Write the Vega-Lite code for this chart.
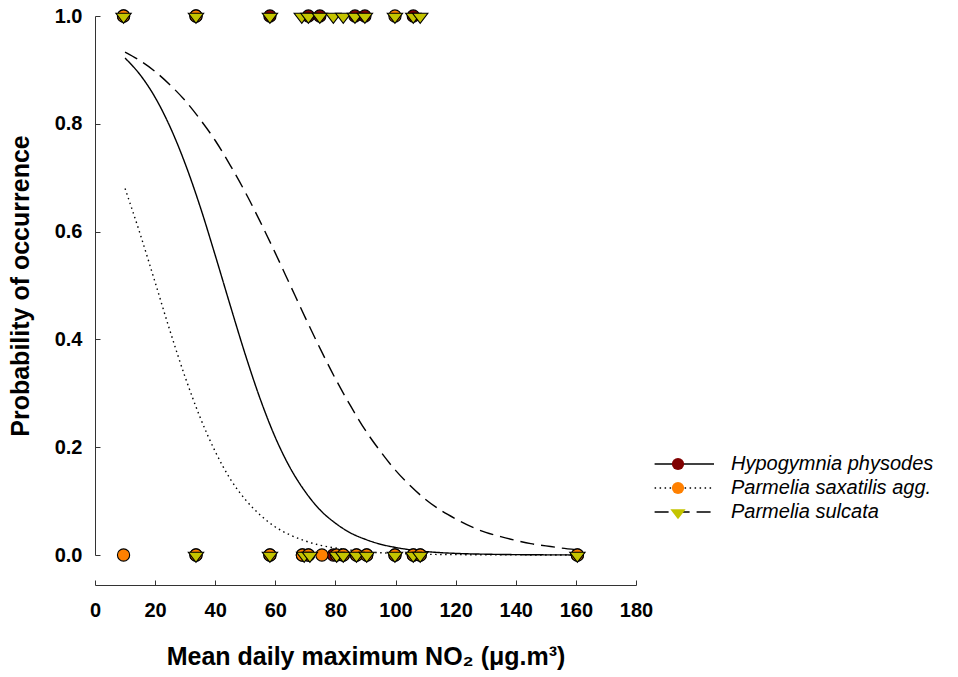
{
  "$schema": "https://vega.github.io/schema/vega-lite/v6.json",
  "width": 541,
  "height": 539,
  "autosize": {"type": "none"},
  "padding": {"left": 95, "top": 16, "right": 322, "bottom": 122},
  "background": "white",
  "config": {
    "view": {"stroke": null},
    "font": "Liberation Sans",
    "axis": {"grid": false, "domainColor": "#333333", "tickColor": "#333333", "labelColor": "black", "titleColor": "black", "labelFont": "Liberation Sans", "titleFont": "Liberation Sans"},
    "legend": {"padding": 0}
  },
  "datasets": {
    "curves": [
      {"species": "Hypogymnia physodes", "x": 10, "p": 0.922},
      {"species": "Hypogymnia physodes", "x": 15, "p": 0.891},
      {"species": "Hypogymnia physodes", "x": 20, "p": 0.849},
      {"species": "Hypogymnia physodes", "x": 25, "p": 0.794},
      {"species": "Hypogymnia physodes", "x": 30, "p": 0.726},
      {"species": "Hypogymnia physodes", "x": 35, "p": 0.646},
      {"species": "Hypogymnia physodes", "x": 40, "p": 0.556},
      {"species": "Hypogymnia physodes", "x": 45, "p": 0.463},
      {"species": "Hypogymnia physodes", "x": 50, "p": 0.372},
      {"species": "Hypogymnia physodes", "x": 55, "p": 0.289},
      {"species": "Hypogymnia physodes", "x": 60, "p": 0.218},
      {"species": "Hypogymnia physodes", "x": 65, "p": 0.161},
      {"species": "Hypogymnia physodes", "x": 70, "p": 0.117},
      {"species": "Hypogymnia physodes", "x": 75, "p": 0.083},
      {"species": "Hypogymnia physodes", "x": 80, "p": 0.059},
      {"species": "Hypogymnia physodes", "x": 85, "p": 0.041},
      {"species": "Hypogymnia physodes", "x": 90, "p": 0.029},
      {"species": "Hypogymnia physodes", "x": 95, "p": 0.02},
      {"species": "Hypogymnia physodes", "x": 100, "p": 0.014},
      {"species": "Hypogymnia physodes", "x": 110, "p": 0.0065},
      {"species": "Hypogymnia physodes", "x": 120, "p": 0.003},
      {"species": "Hypogymnia physodes", "x": 130, "p": 0.0015},
      {"species": "Hypogymnia physodes", "x": 140, "p": 0.0007},
      {"species": "Hypogymnia physodes", "x": 150, "p": 0.0003},
      {"species": "Hypogymnia physodes", "x": 160, "p": 0.0001},
      {"species": "Parmelia saxatilis agg.", "x": 10, "p": 0.68},
      {"species": "Parmelia saxatilis agg.", "x": 15, "p": 0.596},
      {"species": "Parmelia saxatilis agg.", "x": 20, "p": 0.506},
      {"species": "Parmelia saxatilis agg.", "x": 25, "p": 0.415},
      {"species": "Parmelia saxatilis agg.", "x": 30, "p": 0.33},
      {"species": "Parmelia saxatilis agg.", "x": 35, "p": 0.255},
      {"species": "Parmelia saxatilis agg.", "x": 40, "p": 0.192},
      {"species": "Parmelia saxatilis agg.", "x": 45, "p": 0.141},
      {"species": "Parmelia saxatilis agg.", "x": 50, "p": 0.103},
      {"species": "Parmelia saxatilis agg.", "x": 55, "p": 0.074},
      {"species": "Parmelia saxatilis agg.", "x": 60, "p": 0.052},
      {"species": "Parmelia saxatilis agg.", "x": 65, "p": 0.037},
      {"species": "Parmelia saxatilis agg.", "x": 70, "p": 0.026},
      {"species": "Parmelia saxatilis agg.", "x": 75, "p": 0.018},
      {"species": "Parmelia saxatilis agg.", "x": 80, "p": 0.013},
      {"species": "Parmelia saxatilis agg.", "x": 85, "p": 0.009},
      {"species": "Parmelia saxatilis agg.", "x": 90, "p": 0.006},
      {"species": "Parmelia saxatilis agg.", "x": 100, "p": 0.003},
      {"species": "Parmelia saxatilis agg.", "x": 110, "p": 0.0014},
      {"species": "Parmelia saxatilis agg.", "x": 120, "p": 0.0007},
      {"species": "Parmelia saxatilis agg.", "x": 140, "p": 0.0002},
      {"species": "Parmelia saxatilis agg.", "x": 160, "p": 0.00004},
      {"species": "Parmelia sulcata", "x": 10, "p": 0.933},
      {"species": "Parmelia sulcata", "x": 15, "p": 0.917},
      {"species": "Parmelia sulcata", "x": 20, "p": 0.897},
      {"species": "Parmelia sulcata", "x": 25, "p": 0.872},
      {"species": "Parmelia sulcata", "x": 30, "p": 0.843},
      {"species": "Parmelia sulcata", "x": 35, "p": 0.808},
      {"species": "Parmelia sulcata", "x": 40, "p": 0.769},
      {"species": "Parmelia sulcata", "x": 45, "p": 0.723},
      {"species": "Parmelia sulcata", "x": 50, "p": 0.673},
      {"species": "Parmelia sulcata", "x": 55, "p": 0.618},
      {"species": "Parmelia sulcata", "x": 60, "p": 0.56},
      {"species": "Parmelia sulcata", "x": 65, "p": 0.5},
      {"species": "Parmelia sulcata", "x": 70, "p": 0.44},
      {"species": "Parmelia sulcata", "x": 75, "p": 0.382},
      {"species": "Parmelia sulcata", "x": 80, "p": 0.327},
      {"species": "Parmelia sulcata", "x": 85, "p": 0.277},
      {"species": "Parmelia sulcata", "x": 90, "p": 0.231},
      {"species": "Parmelia sulcata", "x": 95, "p": 0.192},
      {"species": "Parmelia sulcata", "x": 100, "p": 0.157},
      {"species": "Parmelia sulcata", "x": 105, "p": 0.128},
      {"species": "Parmelia sulcata", "x": 110, "p": 0.103},
      {"species": "Parmelia sulcata", "x": 115, "p": 0.083},
      {"species": "Parmelia sulcata", "x": 120, "p": 0.067},
      {"species": "Parmelia sulcata", "x": 125, "p": 0.053},
      {"species": "Parmelia sulcata", "x": 130, "p": 0.042},
      {"species": "Parmelia sulcata", "x": 135, "p": 0.034},
      {"species": "Parmelia sulcata", "x": 140, "p": 0.027},
      {"species": "Parmelia sulcata", "x": 145, "p": 0.021},
      {"species": "Parmelia sulcata", "x": 150, "p": 0.017},
      {"species": "Parmelia sulcata", "x": 155, "p": 0.013},
      {"species": "Parmelia sulcata", "x": 160, "p": 0.01}
    ],
    "points": [
      {"species": "Hypogymnia physodes", "x": 9.5, "y": 1},
      {"species": "Hypogymnia physodes", "x": 33.6, "y": 1},
      {"species": "Hypogymnia physodes", "x": 58.2, "y": 1},
      {"species": "Hypogymnia physodes", "x": 71.0, "y": 1},
      {"species": "Hypogymnia physodes", "x": 74.8, "y": 1},
      {"species": "Hypogymnia physodes", "x": 86.5, "y": 1},
      {"species": "Hypogymnia physodes", "x": 89.8, "y": 1},
      {"species": "Hypogymnia physodes", "x": 105.9, "y": 1},
      {"species": "Hypogymnia physodes", "x": 33.6, "y": 0},
      {"species": "Hypogymnia physodes", "x": 58.2, "y": 0},
      {"species": "Hypogymnia physodes", "x": 69.0, "y": 0},
      {"species": "Hypogymnia physodes", "x": 71.0, "y": 0},
      {"species": "Hypogymnia physodes", "x": 79.3, "y": 0},
      {"species": "Hypogymnia physodes", "x": 82.6, "y": 0},
      {"species": "Hypogymnia physodes", "x": 87.0, "y": 0},
      {"species": "Hypogymnia physodes", "x": 90.4, "y": 0},
      {"species": "Hypogymnia physodes", "x": 99.8, "y": 0},
      {"species": "Hypogymnia physodes", "x": 105.9, "y": 0},
      {"species": "Hypogymnia physodes", "x": 108.2, "y": 0},
      {"species": "Hypogymnia physodes", "x": 160.5, "y": 0},
      {"species": "Parmelia saxatilis agg.", "x": 9.5, "y": 1},
      {"species": "Parmelia saxatilis agg.", "x": 33.6, "y": 1},
      {"species": "Parmelia saxatilis agg.", "x": 99.8, "y": 1},
      {"species": "Parmelia saxatilis agg.", "x": 9.5, "y": 0},
      {"species": "Parmelia saxatilis agg.", "x": 33.6, "y": 0},
      {"species": "Parmelia saxatilis agg.", "x": 58.2, "y": 0},
      {"species": "Parmelia saxatilis agg.", "x": 69.0, "y": 0},
      {"species": "Parmelia saxatilis agg.", "x": 71.0, "y": 0},
      {"species": "Parmelia saxatilis agg.", "x": 75.5, "y": 0},
      {"species": "Parmelia saxatilis agg.", "x": 80.4, "y": 0},
      {"species": "Parmelia saxatilis agg.", "x": 82.6, "y": 0},
      {"species": "Parmelia saxatilis agg.", "x": 87.0, "y": 0},
      {"species": "Parmelia saxatilis agg.", "x": 90.4, "y": 0},
      {"species": "Parmelia saxatilis agg.", "x": 99.8, "y": 0},
      {"species": "Parmelia saxatilis agg.", "x": 105.9, "y": 0},
      {"species": "Parmelia saxatilis agg.", "x": 108.2, "y": 0},
      {"species": "Parmelia saxatilis agg.", "x": 160.5, "y": 0},
      {"species": "Parmelia sulcata", "x": 9.5, "y": 1},
      {"species": "Parmelia sulcata", "x": 33.6, "y": 1},
      {"species": "Parmelia sulcata", "x": 58.2, "y": 1},
      {"species": "Parmelia sulcata", "x": 68.8, "y": 1},
      {"species": "Parmelia sulcata", "x": 71.0, "y": 1},
      {"species": "Parmelia sulcata", "x": 74.8, "y": 1},
      {"species": "Parmelia sulcata", "x": 79.3, "y": 1},
      {"species": "Parmelia sulcata", "x": 82.6, "y": 1},
      {"species": "Parmelia sulcata", "x": 86.5, "y": 1},
      {"species": "Parmelia sulcata", "x": 89.8, "y": 1},
      {"species": "Parmelia sulcata", "x": 99.8, "y": 1},
      {"species": "Parmelia sulcata", "x": 105.9, "y": 1},
      {"species": "Parmelia sulcata", "x": 108.2, "y": 1},
      {"species": "Parmelia sulcata", "x": 33.6, "y": 0},
      {"species": "Parmelia sulcata", "x": 58.2, "y": 0},
      {"species": "Parmelia sulcata", "x": 69.6, "y": 0},
      {"species": "Parmelia sulcata", "x": 71.5, "y": 0},
      {"species": "Parmelia sulcata", "x": 80.4, "y": 0},
      {"species": "Parmelia sulcata", "x": 82.6, "y": 0},
      {"species": "Parmelia sulcata", "x": 87.0, "y": 0},
      {"species": "Parmelia sulcata", "x": 90.4, "y": 0},
      {"species": "Parmelia sulcata", "x": 99.8, "y": 0},
      {"species": "Parmelia sulcata", "x": 105.9, "y": 0},
      {"species": "Parmelia sulcata", "x": 108.2, "y": 0},
      {"species": "Parmelia sulcata", "x": 160.5, "y": 0}
    ]
  },
  "layer": [
    {
      "data": {"name": "curves"},
      "mark": {"type": "line", "stroke": "black", "strokeWidth": 1.4, "interpolate": "monotone"},
      "encoding": {
        "x": {
          "field": "x", "type": "quantitative",
          "scale": {"domain": [0, 180], "nice": false, "zero": false},
          "axis": {
            "values": [0, 20, 40, 60, 80, 100, 120, 140, 160, 180],
            "offset": 30, "tickSize": -5, "labelPadding": 20,
            "labelFontSize": 20, "labelFontWeight": "bold", "labelFlush": false, "labelOverlap": false,
            "title": "Mean daily maximum NO₂ (μg.m³)", "titleFontSize": 25, "titleFontWeight": "bold", "titlePadding": 24
          }
        },
        "y": {
          "field": "p", "type": "quantitative",
          "scale": {"domain": [0, 1], "nice": false},
          "axis": {
            "values": [0, 0.2, 0.4, 0.6, 0.8, 1.0], "format": ".1f",
            "tickSize": -5, "labelPadding": 18,
            "labelFontSize": 20, "labelFontWeight": "bold", "labelFlush": false, "labelOverlap": false,
            "title": "Probability of occurrence", "titleFontSize": 25, "titleFontWeight": "bold", "titlePadding": 21
          }
        },
        "strokeDash": {
          "field": "species", "type": "nominal",
          "scale": {"range": [[1, 0], [1.5, 3.5], [14, 7]]},
          "legend": {
            "title": null, "orient": "none", "legendX": 573, "legendY": 438,
            "symbolType": "M-3.9,0L6,0", "symbolSize": 144, "symbolStrokeColor": "black", "symbolFillColor": "transparent", "symbolStrokeWidth": 1.3,
            "labelFontSize": 20, "labelFontStyle": "italic", "labelColor": "black", "labelOffset": 43, "labelLimit": 400, "rowPadding": 4
          }
        }
      }
    },
    {
      "data": {"name": "points"},
      "mark": {"type": "point", "filled": true, "stroke": "black", "strokeWidth": 1.1, "opacity": 1, "size": 150},
      "encoding": {
        "x": {"field": "x", "type": "quantitative"},
        "y": {"field": "y", "type": "quantitative"},
        "shape": {
          "field": "species", "type": "nominal",
          "scale": {"range": ["circle", "circle", "M-1.25,-0.45L1.25,-0.45L0,1.2Z"]},
          "legend": {
            "title": null, "orient": "none", "legendX": 573, "legendY": 438,
            "symbolSize": 150, "symbolStrokeColor": "black", "symbolStrokeWidth": 1.1,
            "labelFontSize": 20, "labelOpacity": 0, "labelOffset": 43, "labelLimit": 400, "rowPadding": 4
          }
        },
        "fill": {
          "field": "species", "type": "nominal",
          "scale": {"range": ["#800000", "#FF8000", "#C4C400"]},
          "legend": {
            "title": null, "orient": "none", "legendX": 573, "legendY": 438,
            "symbolSize": 150, "symbolStrokeColor": "black", "symbolStrokeWidth": 1.1,
            "labelFontSize": 20, "labelOpacity": 0, "labelOffset": 43, "labelLimit": 400, "rowPadding": 4
          }
        }
      }
    }
  ]
}
